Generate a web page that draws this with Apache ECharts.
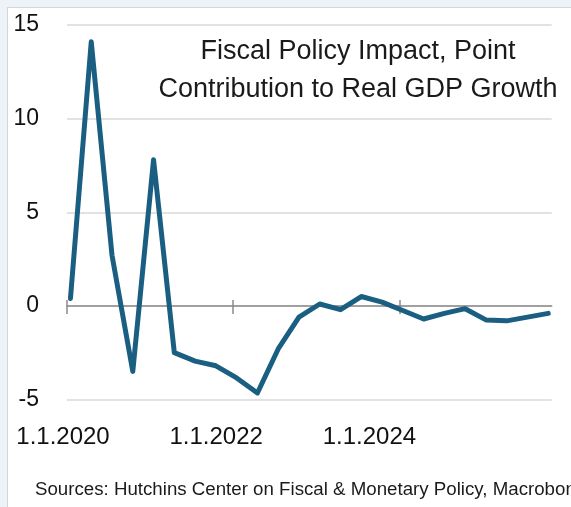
<!DOCTYPE html>
<html>
<head>
<meta charset="utf-8">
<script src="https://cdn.jsdelivr.net/npm/echarts@6/dist/echarts.min.js"></script>
<style>
  html, body { margin: 0; padding: 0; width: 571px; height: 507px; overflow: hidden; background: #eef3f8; }
  #panel { position: absolute; left: 7px; top: 7px; width: 600px; height: 520px;
           background: #ffffff; border-left: 1px solid #d4d6d9; border-top: 1px solid #d4d6d9; }
  #chart { position: absolute; left: 0; top: 0; width: 563px; height: 499px; }
</style>
</head>
<body>
<div id="panel"><div id="chart"></div></div>
<script>
// Quarterly observations (first month of each quarter)
const quarters = [
  '2020-01','2020-04','2020-07','2020-10',
  '2021-01','2021-04','2021-07','2021-10',
  '2022-01','2022-04','2022-07','2022-10',
  '2023-01','2023-04','2023-07','2023-10',
  '2024-01','2024-04','2024-07','2024-10',
  '2025-01','2025-04','2025-07','2025-10'
];
// Fiscal impact, percentage-point contribution to real GDP growth
const fiscalImpact = [
  0.4, 14.1, 2.7, -3.5,
  7.8, -2.5, -2.95, -3.2,
  -3.85, -4.65, -2.3, -0.6,
  0.1, -0.2, 0.5, 0.2,
  -0.25, -0.7, -0.4, -0.15,
  -0.75, -0.8, -0.6, -0.4
];
const xTickDates = ['2020-01', '2022-01', '2024-01'];
const xTickLabels = ['1.1.2020', '1.1.2022', '1.1.2024'];
const yTicks = [-5, 0, 5, 10, 15];

const titleText = 'Fiscal Policy Impact, Point\nContribution to Real GDP Growth';
const sourceText = 'Sources: Hutchins Center on Fiscal & Monetary Policy, Macrobond';

// Months elapsed since Jan 2020
const START_YEAR = 2020;
function monthIndex(d) {
  const [y, m] = d.split('-').map(Number);
  return (y - START_YEAR) * 12 + (m - 1);
}
// Each monthly slot is one unit wide; a point sits in the middle of its month
const seriesData = quarters.map((q, i) => [monthIndex(q) + 0.5, fiscalImpact[i]]);
const tickValues = xTickDates.map(monthIndex);
const xMax = monthIndex(quarters[quarters.length - 1]) + 1;

const Y_MIN = -5, Y_MAX = 15;
const GRID = { left: 59, top: 17, width: 484.7, height: 374.5 };
// distance from the top of the plot down to the zero line
const zeroFromTop = GRID.height * Y_MAX / (Y_MAX - Y_MIN);

// Date labels drift a little to the left of their ticks (right padding in px)
const FONT = 'Liberation Sans, Arial, sans-serif';
const labelPadRight = [8, 34, 60];
const rich = {};
labelPadRight.forEach((p, i) => {
  rich['d' + i] = { fontSize: 24, color: '#111', fontFamily: FONT, padding: [0, p, 0, 0] };
});

const chart = echarts.init(document.getElementById('chart'), null, { renderer: 'canvas' });

const common = { type: 'value', min: 0, max: xMax, gridIndex: 0, splitLine: { show: false } };
const axisGray = { color: '#8a8a8a', width: 1.5 };

chart.setOption({
  animation: false,
  textStyle: { fontFamily: FONT },
  title: [
    {
      text: titleText, left: 345, top: 20, textAlign: 'center',
      textStyle: { fontFamily: FONT, fontSize: 27, fontWeight: 'normal', color: '#1a1a1a', lineHeight: 38 }
    },
    {
      text: sourceText, left: 22, top: 467,
      textStyle: { fontFamily: FONT, fontSize: 18.7, fontWeight: 'normal', color: '#1a1a1a' }
    }
  ],
  grid: { ...GRID, containLabel: false },
  xAxis: [
    {
      // bottom axis carrying the date labels
      ...common, position: 'bottom',
      axisLine: { show: false, onZero: false },
      axisTick: { show: false },
      axisLabel: {
        customValues: tickValues,
        formatter: (v) => {
          const i = tickValues.indexOf(v);
          return i >= 0 ? '{d' + i + '|' + xTickLabels[i] + '}' : '';
        },
        rich: rich,
        margin: 26, fontSize: 24, color: '#111', fontFamily: FONT
      }
    },
    {
      // zero line with tick marks rising above it
      ...common, position: 'bottom',
      axisLine: { show: true, onZero: true, lineStyle: axisGray },
      axisTick: { show: true, inside: true, length: 6, customValues: tickValues, lineStyle: axisGray },
      axisLabel: { show: false }
    },
    {
      // tick marks hanging below the zero line
      ...common, position: 'top', offset: -zeroFromTop,
      axisLine: { show: false, onZero: false },
      axisTick: { show: true, inside: true, length: 8, customValues: tickValues, lineStyle: axisGray },
      axisLabel: { show: false }
    }
  ],
  yAxis: {
    type: 'value', min: Y_MIN, max: Y_MAX, interval: 5,
    axisLine: { show: false },
    axisTick: { show: false },
    axisLabel: {
      margin: 28, fontSize: 23, color: '#111', fontFamily: FONT,
      formatter: (v) => yTicks.includes(v) ? String(v) : ''
    },
    splitLine: { show: true, lineStyle: { color: '#d9d9d9', width: 1.5 } }
  },
  series: [{
    type: 'line',
    xAxisIndex: 1,
    data: seriesData,
    showSymbol: false,
    lineStyle: { color: '#1a5f82', width: 5, cap: 'round', join: 'round' },
    z: 5
  }]
});
</script>
</body>
</html>
